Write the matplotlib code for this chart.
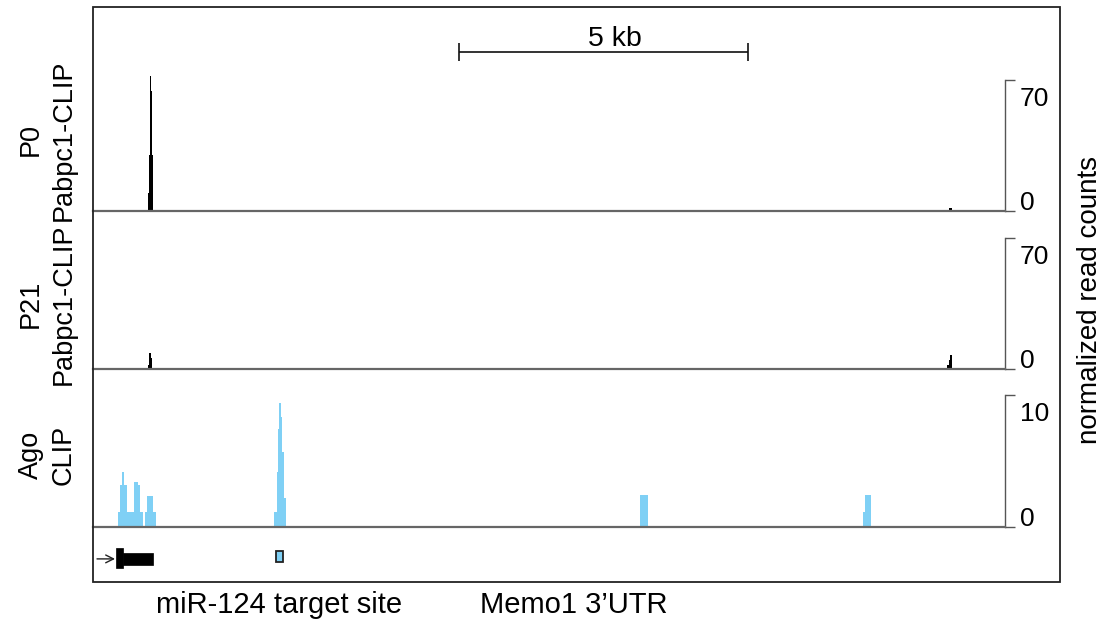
import matplotlib
matplotlib.use("Agg")
import matplotlib.pyplot as plt
from matplotlib.patches import Rectangle

plt.rcParams["font.family"] = ["Liberation Sans", "DejaVu Sans"]
plt.rcParams["font.size"] = 20

# ---------------------------------------------------------------- data (bp)
region = (0, 15780)

# Coverage tracks as step functions: bin edges (bp) and heights
p0_edges = [950, 968, 984, 1000, 1014, 1030, 1046, 14815, 14864]
p0_vals = [9.6, 30, 72, 64, 30, 9.6, 0, 1.6]

p21_edges = [951, 977, 1003, 1021, 14775, 14810, 14836, 14870]
p21_vals = [2, 8.5, 6, 0, 2, 5, 7.5]

ago_edges = [430, 465, 495, 540, 595, 710, 785, 815, 870, 900, 930, 1045, 1090,
             3131, 3178, 3195, 3218, 3247, 3275, 3304, 3334,
             9465, 9605,
             13325, 13355, 13455]
ago_vals = [1.1, 3.2, 4.2, 3.2, 1.1, 3.4, 3.2, 1.1, 0, 1.1, 2.35, 1.1,
            0, 1.1, 4.2, 7.4, 9.4, 8.3, 5.7, 2.2,
            0, 2.4,
            0, 1.1, 2.4]

track_names = ["P0\nPabpc1-CLIP", "P21\nPabpc1-CLIP", "Ago\nCLIP"]
track_scale = [70, 70, 10]

# Gene model
tss_arrow = (69, 381)
utr_thick = (398, 524)
utr_thin = (524, 1031)
mir124_site = (3161, 3293)
utr_label_pos = 8320

scalebar_start = 6330
scalebar_len = 5000

# ---------------------------------------------------------------- layout
W, H = 1108, 624
fig = plt.figure(figsize=(W / 100, H / 100), dpi=100)


def px_axes(x0, y_top, x1, y_bot):
    return fig.add_axes([x0 / W, 1 - y_bot / H, (x1 - x0) / W, (y_bot - y_top) / H])


LEFT, RIGHT_T, FRAME_R = 93, 1005, 1060
TOP, BOT = 7, 582
rows = [(7, 211, 80), (211, 369, 238), (369, 527, 395)]  # top, baseline, scale-top pixel
label_centers = [140, 304, 455]

frame = Rectangle((LEFT / W, 1 - BOT / H), (FRAME_R - LEFT) / W, (BOT - TOP) / H,
                  transform=fig.transFigure, fill=False, lw=1.3, ec="#222222")
fig.add_artist(frame)

black = "#000000"
blue = "#7FD0F5"
axis_grey = "#555555"

tracks = [(p0_edges, p0_vals, black), (p21_edges, p21_vals, black),
          (ago_edges, ago_vals, blue)]

axes = []
for (edges, vals, col), (top, base, stop), scale, name, yc_lab in zip(
        tracks, rows, track_scale, track_names, label_centers):
    ax = px_axes(LEFT, top, RIGHT_T, base)
    ax.set_xlim(*region)
    upp = (base - stop) / scale  # pixels per unit
    ax.set_ylim(0, (base - top) / upp)
    ax.stairs(vals, edges, fill=True, color=col, lw=0)
    for s in ("top", "left"):
        ax.spines[s].set_visible(False)
    ax.spines["bottom"].set_color("#666666")
    ax.spines["bottom"].set_linewidth(1.6)
    ax.spines["right"].set_bounds(0, scale)
    ax.spines["right"].set_color(axis_grey)
    ax.spines["right"].set_linewidth(1.0)
    ax.set_xticks([])
    ax.yaxis.set_ticks_position("right")
    ax.set_yticks([0, scale])
    ax.set_yticklabels([])
    ax.tick_params(axis="y", direction="out", length=7.5, width=1.0, color=axis_grey)
    ax.annotate(str(scale), xy=(1, scale), xycoords=("axes fraction", "data"),
                xytext=(10.5, -19), textcoords="offset points",
                ha="left", va="baseline", fontsize=19)
    ax.annotate("0", xy=(1, 0), xycoords=("axes fraction", "data"),
                xytext=(10.5, 0.5), textcoords="offset points",
                ha="left", va="baseline", fontsize=19)
    ax.patch.set_alpha(0)
    fig.text(47.5 / W, 1 - yc_lab / H, name, rotation=90,
             ha="center", va="center", multialignment="center", fontsize=19.5,
             linespacing=1.33)
    axes.append(ax)

# scale bar in the top track
ax0 = axes[0]
sb_y = 85
ax0.plot([scalebar_start, scalebar_start + scalebar_len], [sb_y, sb_y], color="#111111",
         lw=1.2, marker="|", ms=13, mew=1.2, solid_capstyle="butt")
ax0.annotate("5 kb", xy=(scalebar_start + scalebar_len / 2, sb_y), xytext=(8, 4),
             textcoords="offset points", ha="center", va="baseline", fontsize=20.5)

# gene model track
axg = px_axes(LEFT, 527, FRAME_R, BOT)
axg.set_xlim(region[0], region[0] + (FRAME_R - LEFT) * (region[1] - region[0]) / (RIGHT_T - LEFT))
axg.set_ylim(0, 1)
axg.axis("off")
yc = 0.42
axg.annotate("", xy=(tss_arrow[1], yc), xytext=(tss_arrow[0], yc),
             arrowprops=dict(arrowstyle="->", lw=1.0, color="#222222",
                             mutation_scale=14, shrinkA=0, shrinkB=0))
axg.add_patch(Rectangle((utr_thick[0], 0.255), utr_thick[1] - utr_thick[0], 0.36,
                        fc=black, ec=black, lw=0.5))
axg.add_patch(Rectangle((utr_thin[0], 0.31), utr_thin[1] - utr_thin[0], 0.225,
                        fc=black, ec=black, lw=0.5))
axg.add_patch(Rectangle((mir124_site[0], 0.37), mir124_site[1] - mir124_site[0], 0.185,
                        fc=blue, ec="#222222", lw=1.3))

axg.text(sum(mir124_site) / 2, -0.56, "miR-124 target site", ha="center", va="baseline",
         transform=axg.get_xaxis_transform(), fontsize=21, clip_on=False)
axg.text(utr_label_pos, -0.56, "Memo1 3\u2019UTR", ha="center", va="baseline",
         transform=axg.get_xaxis_transform(), fontsize=21, clip_on=False)

fig.text(1090 / W, 1 - 300 / H, "normalized read counts", rotation=90,
         ha="center", va="center", fontsize=20)

fig.savefig("out.png", dpi=100)
